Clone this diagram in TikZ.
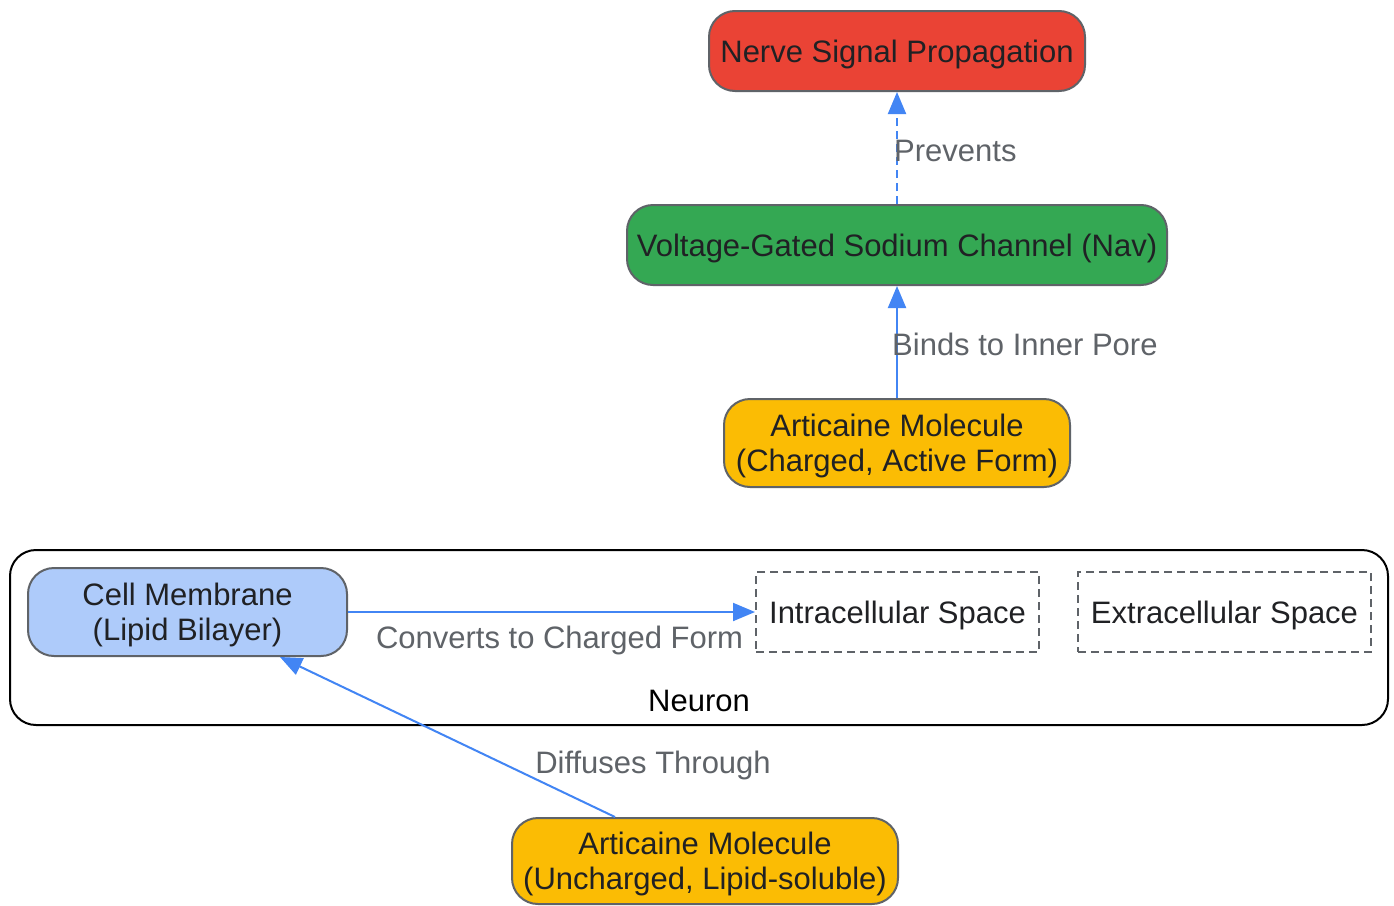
\documentclass[tikz,border=0pt]{standalone}
\usepackage{fontspec}
\setmainfont{Liberation Sans}
\usetikzlibrary{arrows.meta}
\definecolor{cred}{HTML}{EA4335}
\definecolor{cgreen}{HTML}{34A853}
\definecolor{cyellow}{HTML}{FBBC04}
\definecolor{cblue}{HTML}{AECBFA}
\definecolor{cedge}{HTML}{4285F4}
\definecolor{cborder}{HTML}{5F6368}
\definecolor{ctext}{HTML}{202124}
\definecolor{clabel}{HTML}{5F6368}
\begin{document}
\begin{tikzpicture}[x=1pt,y=-1pt,
  font=\fontsize{31}{35}\selectfont,
  box/.style={draw=cborder,line width=2pt,rounded corners=26pt,inner sep=0pt,
    align=center,text=ctext,text depth=0pt},
  space/.style={draw=cborder,line width=2pt,dash pattern=on 8pt off 5pt,inner sep=0pt,
    align=center,text=ctext,text depth=0pt},
  edge/.style={draw=cedge,line width=2pt,-{Triangle[length=22pt,width=18pt]}},
  elabel/.style={text=clabel,inner sep=0pt}]
\useasboundingbox (0,0) rectangle (1394,905);
\fill[white] (0,0) rectangle (1394,905);
% cluster
\node[draw=black,line width=2pt,rounded corners=26pt,minimum width=1378pt,minimum height=175pt,inner sep=0pt] (neuron) at (699,637.5) {};
\node[inner sep=0pt,text=black] (neuronlabel) at (699,701) {Neuron};
% nodes
\node[box,fill=cred,minimum width=376pt,minimum height=80pt] (nerve) at (897,51) {Nerve Signal Propagation};
\node[box,fill=cgreen,minimum width=540pt,minimum height=80pt] (nav) at (897,245) {Voltage-Gated Sodium Channel (Nav)};
\node[box,fill=cyellow,minimum width=346pt,minimum height=88pt] (charged) at (897,443) {Articaine Molecule\\(Charged, Active Form)};
\node[box,fill=cblue,minimum width=319pt,minimum height=88pt] (cell) at (187.5,612) {Cell Membrane\\(Lipid Bilayer)};
\node[space,minimum width=283pt,minimum height=80pt] (intra) at (897.5,612) {Intracellular Space};
\node[space,minimum width=293pt,minimum height=80pt] (extra) at (1224.5,612) {Extracellular Space};
\node[box,fill=cyellow,minimum width=386pt,minimum height=86pt] (uncharged) at (705,861) {Articaine Molecule\\(Uncharged, Lipid-soluble)};
% edges
\draw[edge,dash pattern=on 8pt off 5pt] (nav) -- (nerve);
\draw[edge] (charged) -- (nav);
\draw[edge] (cell.east) -- (intra.west);
\draw[edge] ([xshift=-90pt]uncharged.north) -- ([xshift=92.5pt]cell.south);
% edge labels
\node[elabel,anchor=west] (lprev) at (894,151) {Prevents};
\node[elabel,anchor=west] (lbind) at (892,344) {Binds to Inner Pore};
\node[elabel] (lconv) at (559.5,640) {Converts to Charged Form};
\node[elabel] (ldiff) at (653,765) {Diffuses Through};
\end{tikzpicture}
\end{document}
